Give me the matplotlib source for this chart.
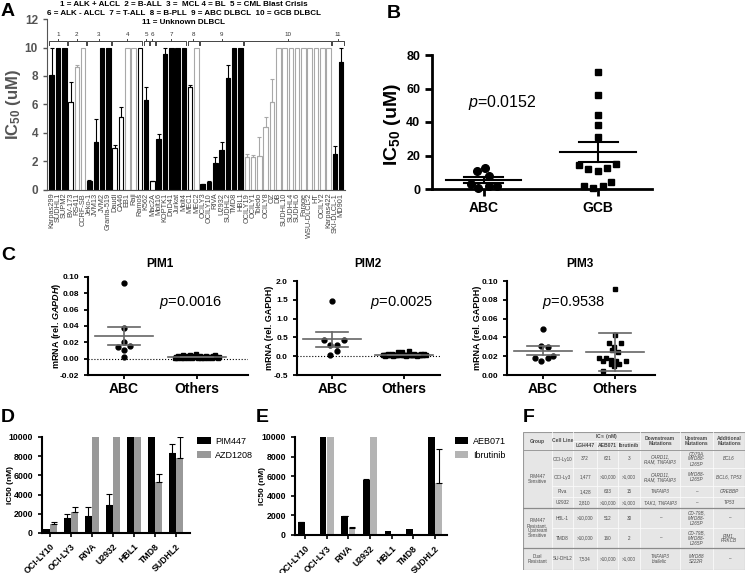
import numpy as np
import matplotlib

matplotlib.use("Agg")
import matplotlib.pyplot as plt
from matplotlib.patches import Patch, Rectangle

plt.rcParams["font.family"] = ["Liberation Sans", "DejaVu Sans"]
plt.rcParams["mathtext.fontset"] = "custom"
plt.rcParams["mathtext.rm"] = "Liberation Sans"
plt.rcParams["mathtext.it"] = "Liberation Sans:italic"
plt.rcParams["mathtext.bf"] = "Liberation Sans:bold"
plt.rcParams["mathtext.sf"] = "Liberation Sans:italic:bold"

# ---------------- data ----------------
# panel A: IC50 (uM) per cell line
a_lines = ["Karpas299", "SUDHL1", "SUPM2", "BV-173", "RS411", "CCRF-SB",
           "Jeko-1", "JVM13", "JVM2", "Granta-519", "Daudi", "CA46", "EB1",
           "Raji", "Ramos", "K562", "Mac2A", "Molt16", "KOPTK1", "DnD41",
           "Jurkat", "Molt4", "MEC1", "MEC2", "OCILY3", "OCILY10", "RIVA",
           "U2932", "SUDHL2", "TMD8", "HBL1", "OCILY19", "OCILY1", "Toledo",
           "OCILY8", "OZ", "DB", "SUDHL10", "SUDHL4", "SUDHL6", "Farage",
           "WSU-DLCL-2", "HT", "OCILY2", "Karpas422", "SKI-DLCL-1", "MD901"]
a_ic50 = [8.05, 10, 10, 6.2, 8.6, 10, 0.65, 3.35, 10, 10, 2.95, 5.1, 10,
          10, 10, 6.3, 0.6, 3.6, 9.55, 10, 10, 10, 7.2, 10, 0.4, 0.55, 1.9,
          2.8, 7.85, 10, 10, 2.35, 2.35, 2.4, 4.4, 6.15, 10, 10, 10, 10, 10,
          10, 10, 10, 10, 2.55, 9.0]
a_err = [1.95, 0, 0, 1.4, 0.15, 0, 0.05, 1.65, 0, 0, 0.2, 0.75, 0, 0, 0,
         0.95, 0.05, 0.35, 0.45, 0, 0, 0, 0.15, 0, 0.05, 0.1, 0.45, 0.6,
         0.95, 0, 0, 0.15, 0.1, 1.35, 0.7, 1.65, 0, 0, 0, 0, 0, 0, 0, 0, 0,
         0.55, 1.0]
a_kind = (["solid"] * 3 + ["open", "open_gray", "open_gray"] + ["solid"] * 4
          + ["open", "open", "open_gray", "open_gray", "open"] + ["solid", "open"]
          + ["solid"] * 5 + ["open", "open_gray"] + ["solid"] * 7
          + ["open_gray"] * 14 + ["solid"] * 2)
a_groups = [(0, 2), (3, 5), (6, 9), (10, 14), (15, 15), (16, 16), (17, 21),
            (22, 23), (24, 30), (31, 44), (45, 46)]
a_legend = ["1 = ALK + ALCL  2 = B-ALL  3 =  MCL 4 = BL  5 = CML Blast Crisis",
            "6 = ALK - ALCL  7 = T-ALL  8 = B-PLL  9 = ABC DLBCL  10 = GCB DLBCL",
            "11 = Unknown DLBCL"]

# panel B
b_abc = [12.8, 10.5, 7.5, 3.0, 2.0, 0.5, 1.5]
b_gcb = [70, 56, 44, 38, 31, 14.5, 12, 11, 12.5, 15, 2, 0.5, 1.5, 4]
b_abc_dx = [0.01, -0.06, 0.045, -0.11, 0.045, -0.045, 0.12]
b_gcb_dx = [0, 0, 0, 0, 0, -0.17, -0.09, 0, 0.08, 0.16, -0.125, -0.045, 0.04, 0.11]

# panel C
pim1_abc = [0.093, 0.037, 0.020, 0.014, 0.011, 0.016, 0.0024]
pim1_abc_dx = [0, 0, 0, -0.08, 0, 0.08, 0]
pim1_oth = [0.001, 0.002, 0.001, 0.003, 0.002, 0.001, 0.002, 0.004, 0.001,
            0.002, 0.003, 0.001, 0.002, 0.005, 0.002, 0.001, 0.003, 0.002,
            0.006, 0.002, 0.001, 0.002, 0.003, 0.001, 0.002, 0.001, 0.002,
            0.003, 0.002, 0.001, 0.002, 0.002, 0.001, 0.003, 0.002, 0.004,
            0.002, 0.001, 0.002]
pim2_abc = [1.47, 0.43, 0.31, 0.30, 0.43, 0.14, 0.03]
pim2_abc_dx = [0, -0.11, -0.03, 0.07, 0.17, 0.06, -0.03]
pim2_oth = [0.02, 0.03, 0.01, 0.04, 0.02, 0.05, 0.03, 0.02, 0.06, 0.01, 0.03,
            0.02, 0.04, 0.03, 0.11, 0.02, 0.05, 0.12, 0.03, 0.02, 0.04, 0.01,
            0.03, 0.13, 0.02, 0.04, 0.03, 0.02, 0.05, 0.03, 0.01, 0.02, 0.04,
            0.03, 0.06, 0.02, 0.03, 0.07, 0.02]
pim3_abc = [0.049, 0.031, 0.030, 0.0186, 0.015, 0.0186, 0.020]
pim3_abc_dx = [0, -0.02, 0.08, -0.1, -0.02, 0.07, 0.14]
pim3_oth = [0.092, 0.043, 0.034, 0.034, 0.030, 0.027, 0.025, 0.0176, 0.016,
            0.0176, 0.015, 0.015, 0.015, 0.0116, 0.0116, 0.010, 0.0045]
pim3_oth_dx = [0, 0, -0.08, 0.08, -0.01, -0.04, 0.04, -0.13, -0.06, -0.22,
               -0.17, 0.01, 0.15, -0.05, 0.05, -0.01, -0.17]
pim_err = {"PIM1": (0.0115, 0.0004), "PIM2": (0.19, 0.005), "PIM3": (0.0045, 0.0205)}
pim_p = {"PIM1": "0.0016", "PIM2": "0.0025", "PIM3": "0.9538"}

# panels D / E
de_lines = ["OCI-LY10", "OCI-LY3", "RIVA", "U2932", "HBL1", "TMD8", "SUDHL2"]
pim447 = [440, 1570, 1740, 2930, 10000, 10000, 8300]
pim447_err = [0, 410, 990, 1090, 0, 0, 1000]
azd1208 = [890, 2150, 10000, 10000, 10000, 5280, 7780]
azd1208_err = [270, 580, 0, 0, 0, 890, 2200]
aeb071 = [1300, 10000, 1900, 5600, 400, 600, 10000]
aeb071_err = [60, 0, 60, 150, 0, 0, 0]
ibrutinib = [3, 10000, 700, 10000, 30, 2, 5300]
ibrutinib_err = [0, 0, 150, 0, 0, 0, 3500]

# panel F table
t_lines = ["OCI-Ly10", "OCI-Ly3", "Riva", "U2932", "HBL-1", "TMD8", "SU-DHL2"]
t_lgh = ["372", "1,477", "1,428", "2,810", ">10,000", ">10,000", "7,534"]
t_aeb = ["621", ">10,000", "633", ">10,000", "512", "160", ">10,000"]
t_ibr = ["3", ">1,000", "15", ">1,000", "30", "2", ">1,000"]
t_down = ["CARD11,\nRAM, TNFAIP3", "CARD11,\nRAM, TNFAIP3", "TNFAIP3",
          "TAK1, TNFAIP3", "\u2013", "\u2013", "TNFAIP3\nbiallelic"]
t_up = ["CD79A,\nMYD88-\nL265P", "MYD88-\nL265P", "\u2013", "\u2013",
        "CD-79B,\nMYD88-\nL265P", "CD-79B,\nMYD88-\nL265P", "MYD88\nS222R"]
t_add = ["BCL6", "BCL6, TP53", "CREBBP", "TP53", "\u2013", "PIM1,\nPRKCB", "\u2013"]
t_groups = ["PIM447\nSensitive", "PIM447\nResistant,\nUpstream\nSensitive",
            "Dual\nResistant"]
t_group_rows = [(0, 3), (4, 5), (6, 6)]

# ---------------- layout helpers ----------------
W, H = 749, 573


def rect(x0, y0, x1, y1):
    return [x0 / W, 1 - y1 / H, (x1 - x0) / W, (y1 - y0) / H]


def ftext(x, y, s, **kw):
    fig.text(x / W, 1 - y / H, s, **kw)


fig = plt.figure(figsize=(W / 100, H / 100), dpi=100)

for letter, (x, y) in zip("ABCDEF", [(8, 12), (394, 14), (8, 255), (8, 418),
                                     (262, 418), (529, 418)]):
    ftext(x, y, letter, fontsize=14, fontweight="bold", ha="center", va="center")

# ---------------- panel A ----------------
axA = fig.add_axes(rect(47, 19, 345, 190))
gray_edge = "#a8a8a8"
xa = np.arange(len(a_lines))
faces = ["black" if k == "solid" else "white" for k in a_kind]
edges = [gray_edge if k == "open_gray" else "black" for k in a_kind]
axA.bar(xa, a_ic50, width=0.72, color=faces, edgecolor=edges, linewidth=0.8)
for xi, v, e, ec in zip(xa, a_ic50, a_err, edges):
    if e > 0:
        axA.errorbar(xi, v, yerr=[[0], [e]], fmt="none", ecolor=ec,
                     elinewidth=0.8, capsize=1.3, capthick=0.8)
for n, (i0, i1) in enumerate(a_groups, start=1):
    yb = 10.45
    axA.plot([i0 - 0.4, i0 - 0.4, i1 + 0.4, i1 + 0.4], [10.2, yb, yb, 10.2],
             color="#444444", lw=0.7)
    xc = (i0 + i1) / 2
    axA.plot([xc, xc], [yb, 10.62], color="#444444", lw=0.7)
    axA.text(xc, 10.72, str(n), fontsize=4.5, ha="center", va="bottom", color="#333333")
axA.set_xlim(-0.75, 46.6)
axA.set_ylim(0, 12)
axA.set_yticks(range(0, 13, 2))
axA.set_xticks(xa)
axA.set_xticklabels(a_lines, rotation=90, fontsize=5.3, color="#444444")
axA.tick_params(axis="x", length=0, pad=2)
axA.tick_params(axis="y", labelsize=8.5, colors="#555555", width=1, length=3)
for lab in axA.get_yticklabels():
    lab.set_fontweight("bold")
for s in ["top", "right"]:
    axA.spines[s].set_visible(False)
for s in ["left", "bottom"]:
    axA.spines[s].set_color("#555555")
axA.set_ylabel(r"IC$_{\mathbf{50}}$ (uM)", fontsize=12, fontweight="bold", color="#555555")
axA.yaxis.set_label_coords(-0.08, 0.5)
for i, line in enumerate(a_legend):
    ftext(184, 4 + i * 9.5, line, fontsize=5.8, fontweight="bold", ha="center", va="center")

# ---------------- panel B ----------------
axB = fig.add_axes(rect(432, 55, 652, 189))
axB.plot(b_abc_dx, b_abc, "o", color="black", ms=5.5, clip_on=False, zorder=3)
axB.plot(1 + np.array(b_gcb_dx), b_gcb, "s", color="black", ms=5, clip_on=False, zorder=3)
for pos, vals in [(0, b_abc), (1, b_gcb)]:
    m = np.mean(vals)
    s = np.std(vals, ddof=1) / np.sqrt(len(vals))
    axB.plot([pos - 0.33, pos + 0.33], [m, m], color="black", lw=1.5)
    axB.plot([pos - 0.17, pos + 0.17], [m + s, m + s], color="black", lw=1.5)
    axB.plot([pos - 0.17, pos + 0.17], [m - s, m - s], color="black", lw=1.5)
    axB.plot([pos, pos], [m - s, m + s], color="black", lw=1.5)
axB.set_xlim(-0.45, 1.47)
axB.set_ylim(0, 80)
axB.set_yticks(range(0, 81, 20))
axB.set_xticks([0, 1])
axB.set_xticklabels(["ABC", "GCB"], fontsize=10, fontweight="bold")
axB.tick_params(width=2, length=5, labelsize=9)
axB.tick_params(axis="x", labelsize=10)
for lab in axB.get_yticklabels():
    lab.set_fontweight("bold")
for s in ["top", "right"]:
    axB.spines[s].set_visible(False)
for s in ["left", "bottom"]:
    axB.spines[s].set_linewidth(2)
axB.set_ylabel(r"IC$_{\mathbf{50}}$ (uM)", fontsize=14, fontweight="bold")
axB.yaxis.set_label_coords(-0.13, 0.48)
axB.text(0.16, 51.5, r"$\it{p}$=0.0152", fontsize=11.5, ha="center", va="center")

# ---------------- panel C ----------------
pim_specs = [
    ("PIM1", (88, 277, 248, 375), pim1_abc, pim1_abc_dx, pim1_oth, None,
     (-0.02, 0.10), np.arange(-0.02, 0.101, 0.02), "{:.2f}", (160, 264), (191, 303),
     "mRNA (rel. $\\mathsf{GAPDH}$)", -0.155, (-0.49, 1.7)),
    ("PIM2", (297, 281, 440, 375), pim2_abc, pim2_abc_dx, pim2_oth, None,
     (-0.5, 2.0), np.arange(-0.5, 2.01, 0.5), "{:.1f}", (368, 264), (402, 303),
     "mRNA (rel. GAPDH)", -0.16, (-0.49, 1.5)),
    ("PIM3", (507, 281, 655, 375), pim3_abc, pim3_abc_dx, pim3_oth, pim3_oth_dx,
     (0, 0.10), np.arange(0, 0.101, 0.02), "{:.2f}", (580, 264), (574, 303),
     "mRNA (rel. GAPDH)", -0.17, (-0.49, 1.55)),
]
for (name, box, abc, abc_dx, oth, oth_dx, ylim, yt, fmt, t_xy, p_xy,
     ylab, lab_x, xlim) in pim_specs:
    ax = fig.add_axes(rect(*box))
    if oth_dx is None:
        oth_dx = np.linspace(-0.3, 0.3, len(oth))
    ax.plot(abc_dx, abc, "o", color="black", ms=3.5, clip_on=False, zorder=3)
    ax.plot(1 + np.array(oth_dx), oth, "s", color="black", ms=3, clip_on=False, zorder=3)
    if ylim[0] < 0:
        ax.axhline(0, color="black", lw=0.8, ls=":", zorder=1)
    e_abc, e_oth = pim_err[name]
    for pos, vals, e in [(0, abc, e_abc), (1, oth, e_oth)]:
        m = np.mean(vals)
        ax.plot([pos - 0.4, pos + 0.4], [m, m], color="#666666", lw=1.2, zorder=4)
        ax.plot([pos - 0.22, pos + 0.22], [m + e, m + e], color="#666666", lw=1.2, zorder=4)
        ax.plot([pos - 0.22, pos + 0.22], [m - e, m - e], color="#666666", lw=1.2, zorder=4)
        ax.plot([pos, pos], [m - e, m + e], color="#666666", lw=1.2, zorder=4)
    ax.set_xlim(*xlim)
    ax.set_ylim(*ylim)
    ax.set_yticks(yt)
    ax.set_yticklabels([fmt.format(v) for v in yt], fontsize=6, fontweight="bold")
    ax.set_xticks([0, 1])
    ax.set_xticklabels(["ABC", "Others"], fontsize=10, fontweight="bold")
    ax.tick_params(width=1.3, length=3)
    ax.tick_params(axis="x", pad=2)
    for s in ["top", "right"]:
        ax.spines[s].set_visible(False)
    for s in ["left", "bottom"]:
        ax.spines[s].set_linewidth(1.5)
    ax.set_ylabel(ylab, fontsize=6.5, fontweight="bold")
    ax.yaxis.set_label_coords(lab_x, 0.5)
    ftext(t_xy[0], t_xy[1], name, fontsize=8.5, fontweight="bold", ha="center", va="center")
    ftext(p_xy[0], p_xy[1], r"$\it{p}$=" + pim_p[name], fontsize=10.5, ha="center", va="center")

# ---------------- panels D / E ----------------
de_specs = [
    ((42, 437, 190, 533), pim447, pim447_err, azd1208, azd1208_err, "#999999",
     ["PIM447", "AZD1208"], -0.19, (-0.38, 6.67)),
    ((295, 437, 447, 535), aeb071, aeb071_err, ibrutinib, ibrutinib_err, "#b4b4b4",
     ["AEB071", "Ibrutinib"], -0.19, (-0.46, 6.55)),
]
for box, v1, e1, v2, e2, c2, names, lab_x, xlim in de_specs:
    ax = fig.add_axes(rect(*box))
    xd = np.arange(len(de_lines))
    ax.bar(xd - 0.17, v1, width=0.32, color="black")
    ax.bar(xd + 0.17, v2, width=0.32, color=c2)
    for off, vals, errs in [(-0.17, v1, e1), (0.17, v2, e2)]:
        for xi, v, e in zip(xd, vals, errs):
            if e > 0:
                ax.errorbar(xi + off, v, yerr=[[0], [e]], fmt="none", ecolor="black",
                            elinewidth=0.8, capsize=2, capthick=0.8)
    ax.set_xlim(*xlim)
    ax.set_ylim(0, 10000)
    ax.set_yticks(range(0, 10001, 2000))
    ax.set_xticks(xd)
    ax.set_xticklabels(de_lines, rotation=45, ha="right", rotation_mode="anchor",
                       fontsize=6.3, fontweight="bold")
    ax.tick_params(width=1.2, length=3, labelsize=6.3)
    for lab in ax.get_yticklabels():
        lab.set_fontweight("bold")
    for s in ["top", "right"]:
        ax.spines[s].set_visible(False)
    for s in ["left", "bottom"]:
        ax.spines[s].set_linewidth(1.5)
    ax.set_ylabel("IC50 (nM)", fontsize=6, fontweight="bold")
    ax.yaxis.set_label_coords(lab_x, 0.5)
    handles = [Patch(facecolor="black"), Patch(facecolor=c2)]
    ax.legend(handles, names, loc="upper left", bbox_to_anchor=(1.05, 1.0),
              frameon=False, fontsize=6.5, handlelength=1.5, handleheight=0.8,
              handletextpad=0.5, labelspacing=0.5, borderpad=0, borderaxespad=0)

# ---------------- panel F (table) ----------------
axF = fig.add_axes(rect(523, 432, 745, 570))
axF.set_xlim(523, 745)
axF.set_ylim(570, 432)
axF.axis("off")
cols = [523, 552, 573, 597, 618, 640, 680, 713, 745]
rows = [432, 441, 450, 468, 486, 497, 508, 528, 548, 570]
tc = "#4a4a4a"
fs = 3.3
axF.add_patch(Rectangle((523, 432), 222, 138, facecolor="#e6e6e6",
                        edgecolor="#9a9a9a", lw=0.8))
line_c = "#fafafa"
for x in cols[1:-1]:
    y_top = 441 if x in (597, 618) else 432
    axF.plot([x, x], [y_top, 570], color=line_c, lw=0.6)
axF.plot([573, 640], [441, 441], color=line_c, lw=0.6)
axF.plot([523, 745], [450, 450], color="#9a9a9a", lw=0.7)
for y in [468, 486, 497, 528]:
    axF.plot([552, 745], [y, y], color=line_c, lw=0.6)
for y in [508, 548]:
    axF.plot([523, 745], [y, y], color="#8a8a8a", lw=0.9)

hdr = [((523, 552), 441, "Group"), ((552, 573), 441, "Cell Line"),
       ((573, 640), 436.5, "IC$_{50}$ (nM)"), ((573, 597), 445.5, "LGH447"),
       ((597, 618), 445.5, "AEB071"), ((618, 640), 445.5, "Ibrutinib"),
       ((640, 680), 441, "Downstream\nMutations"), ((680, 713), 441, "Upstream\nMutations"),
       ((713, 745), 441, "Additional\nMutations")]
for (x0, x1), y, s in hdr:
    axF.text((x0 + x1) / 2, y, s, fontsize=fs + 0.3, color=tc, ha="center",
             va="center", fontweight="bold", linespacing=1.1)
for r in range(len(t_lines)):
    yc = (rows[r + 2] + rows[r + 3]) / 2
    cells = [t_lines[r], t_lgh[r], t_aeb[r], t_ibr[r], t_down[r], t_up[r], t_add[r]]
    for c, s in enumerate(cells):
        xc = (cols[c + 1] + cols[c + 2]) / 2
        style = "italic" if c >= 4 else "normal"
        axF.text(xc, yc, s, fontsize=fs, color=tc, ha="center", va="center",
                 style=style, linespacing=1.05)
for g, (r0, r1) in zip(t_groups, t_group_rows):
    yc = (rows[r0 + 2] + rows[r1 + 3]) / 2
    axF.text(537.5, yc, g, fontsize=fs, color=tc, ha="center", va="center",
             linespacing=1.05)

fig.savefig("out.png", dpi=100)
